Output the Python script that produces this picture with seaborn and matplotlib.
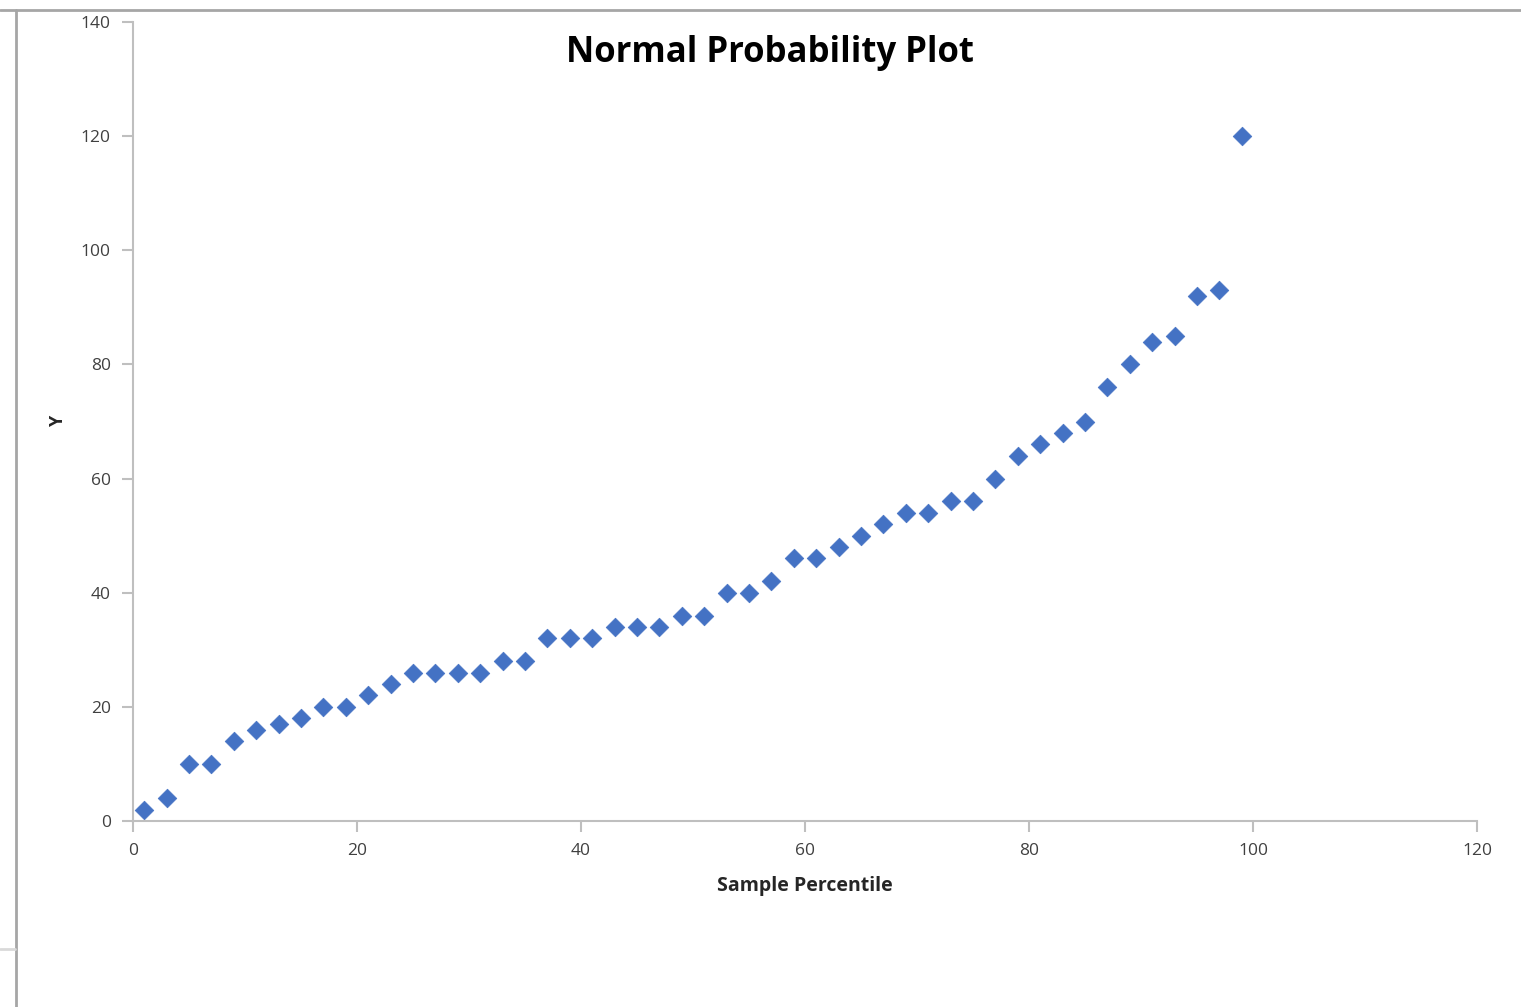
import matplotlib
matplotlib.use("Agg")
import matplotlib.pyplot as plt
import seaborn as sns
import pandas as pd
from matplotlib.lines import Line2D

percentile = [1, 3, 5, 7, 9, 11, 13, 15, 17, 19, 21, 23, 25, 27, 29, 31, 33, 35, 37, 39,
              41, 43, 45, 47, 49, 51, 53, 55, 57, 59, 61, 63, 65, 67, 69, 71, 73, 75, 77, 79,
              81, 83, 85, 87, 89, 91, 93, 95, 97, 99]
y_values = [2, 4, 10, 10, 14, 16, 17, 18, 20, 20, 22, 24, 26, 26, 26, 26, 28, 28, 32, 32,
            32, 34, 34, 34, 36, 36, 40, 40, 42, 46, 46, 48, 50, 52, 54, 54, 56, 56, 60, 64,
            66, 68, 70, 76, 80, 84, 85, 92, 93, 120]
x_ticks = [0, 20, 40, 60, 80, 100, 120]
y_ticks = [0, 20, 40, 60, 80, 100, 120, 140]

df = pd.DataFrame({"Sample Percentile": percentile, "Y": y_values})

sns.set_style("white")
plt.rcParams['font.family'] = ['Open Sans', 'DejaVu Sans']

W, H = 1521, 1007
fig = plt.figure(figsize=(W / 100, H / 100), dpi=100)
ax = fig.add_axes([133 / W, 1 - 821 / H, (1477 - 133) / W, (821 - 22) / H])

sns.scatterplot(data=df, x="Sample Percentile", y="Y", ax=ax, marker="D",
                s=90, color="#4472C4", edgecolor="#4472C4", linewidth=0.5, legend=False)

ax.set_xlim(0, 120)
ax.set_ylim(0, 140)
ax.set_xticks(x_ticks)
ax.set_yticks(y_ticks)
ax.set_xticklabels([str(t) for t in x_ticks])
ax.set_yticklabels([str(t) for t in y_ticks])
for s in ["top", "right"]:
    ax.spines[s].set_visible(False)
for s in ["left", "bottom"]:
    ax.spines[s].set_color("#BFBFBF")
    ax.spines[s].set_linewidth(1.5)
ax.tick_params(axis="both", which="major", direction="out", length=8, width=1.5,
               color="#BFBFBF", labelsize=12.5, labelcolor="#404040", pad=8)
ax.tick_params(axis="x", bottom=True)
ax.tick_params(axis="y", left=True)

ax.set_xlabel("Sample Percentile", fontsize=14, fontweight="bold", color="#262626", labelpad=12)
ax.set_ylabel("Y", fontsize=13, fontweight="bold", color="#262626", labelpad=10)

fig.text(770 / W, 1 - 53 / H, "Normal Probability Plot", ha="center", va="center",
         fontsize=25, fontweight="bold", color="#000000")

# surrounding frame lines of the screenshot
fig.add_artist(Line2D([0, 1], [1 - 10 / H, 1 - 10 / H], transform=fig.transFigure,
                      color="#A6A6A6", linewidth=2))
fig.add_artist(Line2D([16 / W, 16 / W], [0, 1 - 10 / H], transform=fig.transFigure,
                      color="#A6A6A6", linewidth=2))
fig.add_artist(Line2D([0, 15 / W], [1 - 949 / H, 1 - 949 / H], transform=fig.transFigure,
                      color="#D9D9D9", linewidth=2))

fig.savefig("out.png", dpi=100)
